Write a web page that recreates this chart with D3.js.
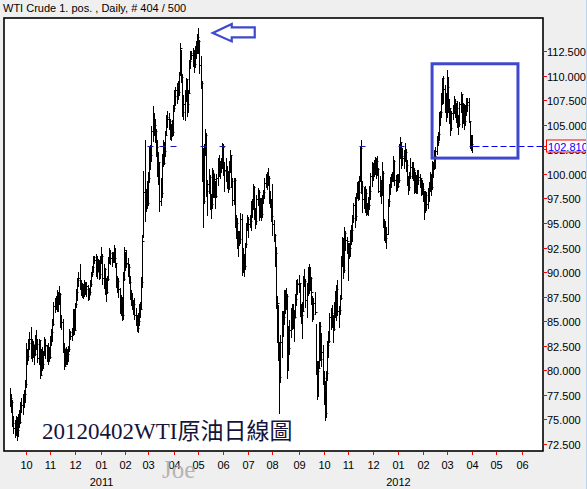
<!DOCTYPE html>
<html><head><meta charset="utf-8">
<script src="https://cdn.jsdelivr.net/npm/d3@7"></script>
<style>body{margin:0;background:#efefef;overflow:hidden}svg{display:block}</style>
</head><body><svg id="c" width="587" height="489"></svg>
<script>
// ---------- DATA (daily bars, one per weekday from 2010-09-13 to 2012-04-02) ----------
const startDate = [2010, 8, 13];
const highs = [
78.2,77.6,77.0,75.3,74.9,75.4,75.2,75.6,76.0,76.8,77.2,77.6,78.0,79.0,
82.8,82.2,83.2,83.9,84.4,83.2,83.0,82.6,83.6,84.1,83.2,83.2,83.1,82.2,82.4,82.0,83.4,83.2,82.6,82.8,82.4,
83.5,84.2,85.2,87.0,87.4,87.6,88.2,88.0,88.6,87.9,85.6,85.2,82.8,82.2,82.4,82.2,82.5,84.2,84.0,84.3,86.2,86.2,
86.9,88.3,89.4,90.0,90.8,89.2,88.9,88.8,89.2,89.0,89.0,88.7,88.4,89.2,90.0,90.6,91.6,91.6,91.8,91.6,91.3,91.2,91.6,
92.6,91.8,90.8,90.4,89.4,89.6,91.5,92.5,92.2,92.0,92.0,92.8,92.4,90.9,89.6,89.4,88.4,87.7,87.5,90.0,92.6,
92.0,92.2,91.4,90.8,89.6,88.2,87.9,87.2,87.4,86.3,85.6,85.8,86.8,87.0,89.5,93.8,100.3,103.4,98.5,99.3,
100.2,102.8,102.9,104.9,106.9,106.2,105.6,104.6,103.4,102.2,101.2,99.6,102.0,103.4,103.2,104.4,106.0,106.4,106.2,105.6,105.1,105.5,107.0,
108.5,108.8,109.2,109.4,110.4,113.3,112.6,110.2,108.0,108.5,109.8,109.7,108.5,111.6,112.5,112.5,112.8,112.6,113.0,113.5,114.2,
114.8,113.6,112.0,109.4,102.6,103.0,104.6,104.2,99.4,100.5,99.9,97.9,100.6,100.4,100.0,99.3,100.0,101.6,101.9,101.3,101.6,103.1,
103.0,101.2,101.6,100.8,100.3,101.3,102.4,101.8,99.6,99.6,99.6,95.8,95.5,94.2,94.2,96.0,95.9,92.4,91.8,93.0,95.0,95.8,
95.6,95.8,97.2,97.4,99.0,98.8,96.5,97.8,98.6,98.4,97.5,97.5,97.8,98.4,99.6,100.0,100.2,100.6,99.8,98.3,97.4,
99.0,95.3,93.9,92.6,87.6,86.6,82.9,83.6,86.0,86.0,88.2,88.2,88.4,87.8,84.5,85.1,86.3,86.7,86.8,86.1,87.8,89.2,89.3,
89.7,88.9,86.7,87.0,89.6,90.3,89.3,88.9,90.5,90.8,90.5,89.5,87.6,87.4,88.0,84.7,80.9,80.9,84.9,84.9,83.8,82.6,
79.9,78.9,79.9,83.0,84.0,85.8,86.3,86.6,85.6,87.0,88.1,88.7,89.2,86.5,87.7,91.6,93.6,93.5,94.6,94.2,93.6,
93.0,93.0,94.3,94.8,95.8,97.0,97.6,98.0,99.2,99.3,99.8,102.7,103.4,99.3,98.7,98.8,98.5,97.0,97.6,98.8,100.1,101.2,
101.1,101.4,101.7,101.6,101.8,100.6,99.8,99.4,101.2,100.3,95.4,95.2,94.6,97.4,99.0,99.7,100.0,100.2,101.8,101.4,99.9,100.0,
100.0,103.0,103.7,103.2,102.6,102.4,103.1,102.5,101.4,99.8,100.2,101.6,101.2,101.2,100.6,100.2,99.9,100.4,100.4,100.0,99.6,99.4,
99.1,98.2,98.3,98.1,98.6,99.2,100.2,100.0,101.3,101.2,102.4,102.7,103.8,104.3,106.3,106.4,108.2,109.8,110.0,109.0,108.2,
110.6,109.9,107.6,106.7,106.4,107.0,107.9,107.6,107.2,107.4,106.0,107.3,108.3,108.0,107.2,107.1,107.0,107.7,107.7,107.7,105.4,104.0,
103.9];
const lows = [
76.4,75.8,74.3,73.6,73.2,73.4,72.9,73.3,74.2,74.6,75.8,75.6,76.3,76.8,
78.3,80.6,81.0,82.2,81.3,80.9,81.4,80.6,81.6,82.2,80.8,80.6,79.2,79.6,80.0,80.2,81.6,81.3,80.9,80.6,80.9,
81.3,82.6,83.0,84.6,85.9,86.2,86.0,86.0,86.8,84.4,84.2,81.9,80.1,80.4,80.6,80.6,80.9,82.0,83.2,83.1,83.6,83.7,
84.2,86.4,87.2,88.6,88.3,87.7,87.5,87.4,87.6,87.8,87.6,87.2,87.3,87.8,88.6,89.6,90.0,90.9,89.6,89.4,90.1,89.3,89.4,
90.9,88.8,88.4,87.8,87.1,87.9,89.2,90.9,90.8,90.6,91.0,91.0,90.5,88.5,88.0,87.5,85.8,85.6,85.1,85.2,89.2,
90.2,90.5,89.6,88.9,87.3,86.6,86.2,85.7,85.2,84.6,84.0,83.9,84.6,85.4,86.2,88.5,93.6,95.2,96.2,96.5,
96.8,99.2,100.5,101.3,103.3,103.9,103.2,101.8,99.8,99.0,96.2,96.8,97.6,100.8,101.0,101.8,104.0,104.8,104.6,103.5,103.4,103.8,104.0,
106.4,107.0,107.2,107.6,108.0,110.1,109.3,105.9,105.6,105.5,107.4,105.9,106.3,108.3,110.8,111.7,111.0,110.4,110.9,111.8,112.3,
112.3,110.3,108.7,99.3,94.6,97.0,101.9,97.7,95.8,98.0,96.4,95.5,96.5,97.6,97.6,96.5,97.6,98.9,99.8,99.6,100.2,100.6,
99.9,98.3,99.3,98.6,98.1,98.5,100.2,98.7,96.8,96.9,94.6,93.5,92.5,91.6,92.8,93.0,89.7,90.0,89.6,90.3,92.6,94.3,
93.6,94.6,94.3,95.6,96.4,95.4,94.5,94.9,96.8,95.3,95.6,95.3,95.6,97.0,97.5,98.7,98.5,98.9,97.0,96.6,95.2,
93.8,93.2,90.6,86.3,82.9,81.0,75.7,78.8,81.4,83.5,84.7,85.8,86.2,79.2,80.0,81.7,83.4,84.2,84.3,83.0,85.4,86.6,87.8,
88.0,85.5,84.8,83.3,86.1,88.6,86.4,85.4,87.7,87.9,88.2,86.8,85.0,85.2,85.7,79.6,77.1,77.4,80.3,81.1,80.4,78.6,
76.6,74.9,75.2,79.0,81.4,82.9,84.2,84.4,82.9,84.1,85.4,85.1,85.6,84.4,85.7,87.3,90.6,89.4,90.0,92.2,91.9,
89.2,91.4,91.6,92.9,93.2,95.1,94.6,95.3,97.5,97.3,97.4,99.3,98.0,96.1,96.5,96.1,95.8,95.9,95.8,96.4,97.4,98.8,
99.4,99.8,100.0,99.6,99.9,98.1,97.7,97.0,97.8,94.6,93.3,93.1,92.5,93.9,96.7,97.9,98.7,99.3,99.3,98.9,98.3,98.4,
98.7,99.2,101.6,100.6,100.9,100.6,101.4,100.3,98.9,97.9,98.4,99.6,99.6,99.4,98.0,98.1,98.0,98.0,99.0,98.7,97.8,97.9,
97.2,95.4,96.1,96.3,96.5,97.2,98.3,97.8,98.5,99.7,100.5,100.6,102.0,102.9,103.4,105.0,105.8,107.1,107.2,106.3,105.4,
105.8,106.3,105.2,104.0,104.5,105.6,106.2,105.8,105.3,104.8,104.1,104.9,106.3,104.8,105.2,104.6,105.0,106.0,106.4,105.3,102.6,102.4,
102.2];
const closes = [
77.2,76.8,74.6,74.1,73.7,74.9,73.9,75.2,74.7,76.5,76.5,77.2,77.6,78.6,
81.6,81.5,82.8,83.2,81.7,82.7,82.0,81.7,83.0,82.7,81.3,83.1,79.5,81.8,80.6,81.7,82.5,82.6,81.9,82.2,81.4,
83.0,83.9,84.7,86.5,86.9,87.1,86.7,87.8,87.8,84.9,84.9,82.3,80.4,81.9,81.5,81.7,82.2,83.9,83.5,83.8,85.7,84.1,
86.8,88.0,89.2,89.4,88.7,88.3,88.4,87.8,88.6,88.3,88.6,87.7,88.0,88.8,89.8,90.5,91.5,91.2,90.0,91.1,90.9,89.8,91.4,
91.6,89.4,90.3,88.4,88.0,89.3,91.1,91.9,91.4,91.5,91.6,91.4,90.9,88.9,89.1,88.3,86.2,87.3,85.6,89.3,92.2,
90.8,90.9,90.5,89.0,87.5,86.9,86.7,86.7,85.6,84.8,84.3,85.0,86.4,86.2,89.0,93.2,98.1,97.3,97.9,97.0,
99.6,102.2,101.9,104.4,105.4,105.0,104.4,102.7,101.2,101.2,97.2,98.0,101.4,101.1,102.3,104.0,105.8,105.6,105.4,104.0,104.8,104.3,106.7,
107.9,108.5,108.8,108.3,110.3,112.8,109.9,106.3,107.1,108.1,109.7,107.1,108.2,111.5,112.3,112.1,112.3,111.2,112.8,112.9,113.9,
113.5,111.1,109.2,99.8,97.2,102.6,103.9,98.2,99.0,99.7,97.4,96.9,100.1,98.4,99.5,97.7,99.6,101.3,100.2,100.6,100.9,102.7,
100.3,100.4,100.2,99.0,98.7,100.7,101.9,99.3,97.3,99.4,94.8,95.0,93.0,93.3,93.4,95.4,91.0,91.2,90.6,92.9,95.0,95.4,
94.9,95.2,96.9,96.7,98.7,96.2,95.2,97.4,98.1,95.7,97.2,95.9,97.5,98.1,99.1,99.9,99.2,99.6,97.4,97.4,95.7,
94.9,93.8,91.9,86.6,86.9,81.3,79.3,82.9,85.7,85.4,87.9,86.7,87.6,82.4,82.3,84.1,85.4,85.2,85.3,85.4,87.3,88.9,88.8,
88.9,86.5,85.6,86.0,89.3,89.1,87.2,88.2,90.2,88.9,89.4,88.0,85.7,86.9,85.9,80.5,79.9,80.2,84.5,81.2,81.9,79.2,
77.6,75.7,79.7,82.6,83.0,85.4,85.8,85.6,84.2,86.8,86.4,88.3,86.0,86.1,87.4,91.3,93.2,90.2,94.0,93.3,93.2,
92.2,92.5,94.1,94.3,95.5,96.8,95.7,97.8,99.0,98.1,99.4,102.6,98.8,97.4,97.7,98.0,96.2,96.5,96.8,98.2,99.8,100.4,
100.2,101.0,101.0,101.3,100.5,98.3,99.4,97.8,100.1,95.0,93.9,93.5,93.9,97.2,98.7,99.5,99.7,99.9,101.3,99.4,99.7,98.8,
99.4,103.0,103.2,101.8,101.6,101.3,102.2,100.9,99.1,98.7,99.8,100.7,100.6,100.4,98.5,99.6,99.0,99.4,99.7,99.6,98.8,98.5,
97.6,96.4,97.8,96.9,98.4,98.7,99.8,98.7,100.9,100.7,101.8,102.3,103.2,104.1,105.8,106.3,107.8,109.8,108.6,106.6,107.1,
108.8,106.7,106.7,104.7,106.2,106.6,107.4,106.3,106.7,105.4,105.1,107.1,108.1,105.6,106.9,105.4,106.9,107.0,107.3,105.4,102.8,103.0,
102.81];
const yTicks = [72.5,75,77.5,80,82.5,85,87.5,90,92.5,95,97.5,100,102.5,105,107.5,110,112.5];
const lastPrice = 102.81;
const levelMarkIdx = [123,133,143,169,186,309,343,405];
const axisEnd = [2012, 5, 30];
const title = "WTI Crude 1. pos. , Daily, # 404 / 500";
const caption = "20120402WTI原油日線圖";
const watermark = "Joe";
// annotation box (bar index span and price span)
const noteBox = {i0: 370, i1: 445.3, pLow: 101.6, pHigh: 111.2};

// ---------- LAYOUT ----------
const W = 587, H = 489;
const P = {l: 4, t: 18, r: 543, b: 451};
const n = Math.min(highs.length, lows.length, closes.length);

// weekdays
const days = [];
let d = new Date(startDate[0], startDate[1], startDate[2]);
const endAxis = new Date(axisEnd[0], axisEnd[1], axisEnd[2]);
while (d <= endAxis) {
  const wd = d.getDay();
  if (wd !== 0 && wd !== 6) days.push(new Date(d));
  d.setDate(d.getDate() + 1);
}

const x = d3.scaleLinear().domain([14, 405]).range([26, 472]);
const y = d3.scaleLinear().domain([72.5, 112.5]).range([444, 51]);

const svg = d3.select("#c");
svg.append("rect").attr("width", W).attr("height", H).attr("fill", "#efefef");
svg.append("line").attr("x1", 586.5).attr("x2", 586.5).attr("y1", 0).attr("y2", H)
  .attr("stroke", "#bcd4ec").attr("stroke-width", 1);

svg.append("rect").attr("x", P.l).attr("y", P.t).attr("width", P.r - P.l).attr("height", P.b - P.t)
  .attr("fill", "#fff");

const defs = svg.append("defs");
defs.append("clipPath").attr("id", "plotclip").append("rect")
  .attr("x", P.l).attr("y", P.t).attr("width", P.r - P.l).attr("height", P.b - P.t);
defs.append("clipPath").attr("id", "axclip").append("rect")
  .attr("x", P.r).attr("y", 0).attr("width", 586 - P.r).attr("height", H);

const gp = svg.append("g").attr("clip-path", "url(#plotclip)");

const bars = d3.range(n).map(i => ({i, h: highs[i], l: lows[i], c: closes[i]}));
const bx = i => Math.round(x(i)) + 0.5;

gp.append("g").selectAll("line").data(bars).join("line")
  .attr("x1", d => bx(d.i)).attr("x2", d => bx(d.i))
  .attr("y1", d => Math.round(y(d.h))).attr("y2", d => Math.round(y(d.l)) + 1)
  .attr("stroke", "#000").attr("stroke-width", 1);
gp.append("g").selectAll("line").data(bars).join("line")
  .attr("x1", d => bx(d.i)).attr("x2", d => bx(d.i) + 2)
  .attr("y1", d => Math.round(y(d.c)) + 0.5).attr("y2", d => Math.round(y(d.c)) + 0.5)
  .attr("stroke", "#000").attr("stroke-width", 1);

// level marks
const yl = Math.round(y(lastPrice)) + 0.5;
gp.append("g").selectAll("line").data(levelMarkIdx).join("line")
  .attr("x1", i => bx(i) - 3).attr("x2", i => bx(i) + 3)
  .attr("y1", yl).attr("y2", yl).attr("stroke", "#1a1aa0").attr("stroke-width", 1);

// dashed last price line
svg.append("line").attr("x1", bx(n - 1) + 1).attr("x2", P.r + 2)
  .attr("y1", yl).attr("y2", yl)
  .attr("stroke", "#0000ff").attr("stroke-width", 1).attr("stroke-dasharray", "6,3");

// frame
svg.append("rect").attr("x", P.l).attr("y", P.t).attr("width", P.r - P.l).attr("height", P.b - P.t)
  .attr("fill", "none").attr("stroke", "#000").attr("stroke-width", 1.6);

// y axis ticks and labels
const font = "'Liberation Sans', Arial, sans-serif";
const gy = svg.append("g").attr("clip-path", "url(#axclip)");
yTicks.forEach(v => {
  const yy = Math.round(y(v)) + 0.5;
  gy.append("line").attr("x1", P.r).attr("x2", P.r + 4).attr("y1", yy).attr("y2", yy)
    .attr("stroke", "#ff0000").attr("stroke-width", 1);
  gy.append("text").attr("x", P.r + 4).attr("y", yy + 4)
    .attr("font-family", font).attr("font-size", 11).attr("fill", "#000")
    .text(d3.format(".3f")(v));
});
// last price label
gy.append("rect").attr("x", P.r + 3.5).attr("y", yl - 6.5).attr("width", 50).attr("height", 12)
  .attr("fill", "#fff").attr("stroke", "#ff0000").attr("stroke-width", 1);
gy.append("line").attr("x1", P.r).attr("x2", P.r + 4).attr("y1", yl).attr("y2", yl)
  .attr("stroke", "#ff0000");
gy.append("text").attr("x", P.r + 5).attr("y", yl + 4)
  .attr("font-family", font).attr("font-size", 11).attr("fill", "#0000ff")
  .text(d3.format(".3f")(lastPrice));

// x axis month ticks
const fmtM = d3.timeFormat("%m");
const gx = svg.append("g");
days.forEach((dt, i) => {
  if (i === 0 || dt.getMonth() === days[i - 1].getMonth()) return;
  const xx = Math.round(x(i)) + 0.5;
  gx.append("line").attr("x1", xx).attr("x2", xx).attr("y1", P.b + 1).attr("y2", P.b + 4)
    .attr("stroke", "#ff0000").attr("stroke-width", 1);
  gx.append("text").attr("x", xx).attr("y", 468.5).attr("text-anchor", "middle")
    .attr("font-family", font).attr("font-size", 11).attr("fill", "#000").text(fmtM(dt));
  if (dt.getMonth() === 0) {
    gx.append("text").attr("x", xx).attr("y", 485.5).attr("text-anchor", "middle")
      .attr("font-family", font).attr("font-size", 11).attr("fill", "#000").text(dt.getFullYear());
  }
});

// title
svg.append("text").attr("x", 3).attr("y", 12).attr("font-family", font).attr("font-size", 11)
  .attr("fill", "#000").text(title);

// annotations
const blue = "#3f48cc";
svg.append("rect").attr("x", x(noteBox.i0)).attr("y", y(noteBox.pHigh))
  .attr("width", x(noteBox.i1) - x(noteBox.i0)).attr("height", y(noteBox.pLow) - y(noteBox.pHigh))
  .attr("fill", "none").attr("stroke", blue).attr("stroke-width", 3);

let pk = d3.maxIndex(highs);
const ax = x(pk) + 14.5, ay = y(highs[pk]) + 4.5;
const arrow = [[0,0],[19,-9],[19,-5.5],[42,-5.5],[42,4.5],[19,4.5],[19,8.5]];
svg.append("polygon").attr("points", arrow.map(p => [ax + p[0], ay + p[1]].join(",")).join(" "))
  .attr("fill", "none").attr("stroke", blue).attr("stroke-width", 2.2).attr("stroke-linejoin", "miter");

// caption and watermark
svg.append("text").attr("x", 42).attr("y", 439)
  .attr("font-family", "'Liberation Serif', 'Noto Sans CJK TC', serif").attr("font-size", 23)
  .attr("fill", "#14143c").text(caption);
svg.append("text").attr("x", 162).attr("y", 478)
  .attr("font-family", "'Liberation Serif', serif").attr("font-size", 25)
  .attr("fill", "#b4b4b4").text(watermark);
</script></body></html>
